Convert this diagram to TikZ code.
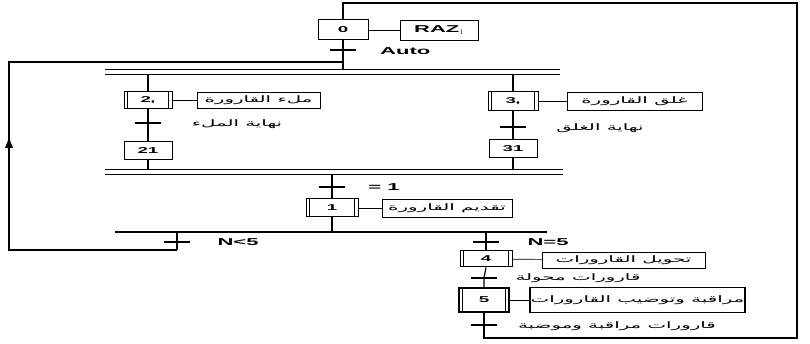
\documentclass[tikz,border=0pt]{standalone}
\usepackage{fontspec}
\setmainfont{Liberation Sans}[FakeStretch=2.2]
\newfontfamily\ar[Script=Arabic,FakeStretch=2.2]{DejaVu Sans}
\TeXXeTstate=1
\usetikzlibrary{arrows.meta}
\begin{document}
\begin{tikzpicture}[x=1pt,y=-1pt,
 every node/.style={inner sep=0pt},
 bars/.style={path picture={
   \draw[line width=1pt] ([xshift=3.5pt]path picture bounding box.north west) -- ([xshift=3.5pt]path picture bounding box.south west);
   \draw[line width=1pt] ([xshift=-3.5pt]path picture bounding box.north east) -- ([xshift=-3.5pt]path picture bounding box.south east);}},
 plainstep/.style={draw, line width=1pt, minimum width=48pt, minimum height=18pt, font=\bfseries\fontsize{8.5}{8.5}\selectfont},
 stepbox/.style={plainstep, bars},
 actbox/.style={draw, line width=0.9pt, minimum height=17pt, font=\ar\fontsize{9}{9}\selectfont},
 lbl/.style={font=\ar\fontsize{9}{9}\selectfont},
 latin/.style={font=\bfseries\fontsize{10}{10}\selectfont},
 link/.style={line width=1.2pt},
 alink/.style={line width=0.7pt},
 tick/.style={line width=1.1pt},
 bar/.style={line width=1pt}
]
\useasboundingbox (0,0) rectangle (810,344);
% initial step
\node[plainstep, minimum width=50pt, minimum height=20pt] (s0) at (343,30) {0};
\node[actbox, latin, minimum width=78pt, minimum height=20pt] (raz) at (439,30) {RAZ$_1$};
\draw[alink] (s0) -- (raz);
% coordinates
\coordinate (top) at (343,3);
\coordinate (tr) at (797,3);
\coordinate (br) at (797,338);
\coordinate (bl) at (484,338);
\coordinate (tA) at (343,50);
\coordinate (lj) at (343,62);
\coordinate (ltl) at (9,62);
\coordinate (lm) at (9,138);
\coordinate (lbl) at (9,250);
\coordinate (lbr) at (177,250);
\coordinate (d1Lt) at (105,70);
\coordinate (d1Rt) at (560,70);
\coordinate (d1Lb) at (105,75);
\coordinate (d1Rb) at (560,75);
\coordinate (d1c) at (343,70);
% top
\draw[link] (s0.south) -- (tA) -- (lj) -- (d1c);
\draw[tick] ([xshift=-13pt]tA) -- ([xshift=13pt]tA);
\node[latin, anchor=west] (auto) at (380,51) {Auto};
\draw[bar] (d1Lt) -- (d1Rt);
\draw[bar] (d1Lb) -- (d1Rb);
% left loop with upward arrow
\draw[link] (lbr) -- (lbl) -- (ltl) -- (lj);
\fill (lm) -- ([xshift=-4pt,yshift=-10pt]lm) -- ([xshift=4pt,yshift=-10pt]lm) -- cycle;
% branch 2
\coordinate (d1b2) at (148,75);
\node[stepbox, minimum width=48pt, minimum height=17pt] (s2) at (148,100) {2$_\bullet$};
\coordinate (t2) at (148,123);
\node[plainstep] (s21) at (148,151) {21};
\coordinate (c1b2) at (148,170);
\draw[link] (d1b2) -- (s2.north);
\draw[link] (s2.south) -- (t2) -- (s21.north);
\draw[link] (s21.south) -- (c1b2);
\draw[tick] ([xshift=-13pt]t2) -- ([xshift=13pt]t2);
\node[actbox, minimum width=123pt, minimum height=16pt] (a2) at (258.5,100) {\beginR ملء القارورة\endR};
\draw[alink] (s2) -- (a2);
\node[lbl] (l2) at (237,124) {\beginR نهاية الملء\endR};
% branch 3
\coordinate (d1b3) at (513,75);
\node[stepbox, minimum width=50pt, minimum height=19pt] (s3) at (513,101) {3$_\bullet$};
\coordinate (t3) at (513,127);
\node[plainstep] (s31) at (513,149) {31};
\coordinate (c1b3) at (513,170);
\draw[link] (d1b3) -- (s3.north);
\draw[link] (s3.south) -- (t3) -- (s31.north);
\draw[link] (s31.south) -- (c1b3);
\draw[tick] ([xshift=-13pt]t3) -- ([xshift=13pt]t3);
\node[actbox, minimum width=135pt, minimum height=18pt] (a3) at (634.5,101) {\beginR غلق القارورة\endR};
\draw[alink] (s3) -- (a3);
\node[lbl] (l3) at (600,128) {\beginR نهاية الغلق\endR};
% convergence
\coordinate (c1Lt) at (105,170);
\coordinate (c1Rt) at (563,170);
\coordinate (c1Lb) at (105,175);
\coordinate (c1Rb) at (563,175);
\draw[bar] (c1Lt) -- (c1Rt);
\draw[bar] (c1Lb) -- (c1Rb);
\coordinate (c1o) at (332,175);
\coordinate (t1) at (332,187);
\node[stepbox, minimum width=52pt] (s1) at (332,208) {1};
\draw[link] (c1o) -- (t1) -- (s1.north);
\draw[tick] ([xshift=-13pt]t1) -- ([xshift=13pt]t1);
\node[latin] (l1) at (384,187) {= 1};
\node[actbox, minimum width=130pt, minimum height=18pt] (a1) at (447,208) {\beginR تقديم القارورة\endR};
\draw[alink] (s1) -- (a1);
% selection
\coordinate (selL) at (115,232);
\coordinate (selR) at (547,232);
\coordinate (sel1) at (332,232);
\draw[link] (selL) -- (selR);
\draw[link] (s1.south) -- (sel1);
\coordinate (sl) at (177,232);
\coordinate (tL) at (177,242);
\draw[link] (sl) -- (tL) -- (lbr);
\draw[tick] ([xshift=-13pt]tL) -- ([xshift=13pt]tL);
\node[latin] (lL) at (238,242) {N<5};
% right branch
\coordinate (sr) at (486,232);
\coordinate (tR) at (486,242);
\node[stepbox, minimum width=52pt, minimum height=16pt] (s4) at (486,259) {4};
\draw[link] (sr) -- (tR) -- (s4.north);
\draw[tick] ([xshift=-13pt]tR) -- ([xshift=13pt]tR);
\node[latin] (lR) at (548,242) {N=5};
\node[actbox, minimum width=163pt, minimum height=16pt] (a4) at (623.5,260) {\beginR تحويل القارورات\endR};
\draw[alink] (s4) -- (a4);
\coordinate (t4) at (484,278);
\node[lbl] (l4) at (578,278) {\beginR قارورات محولة\endR};
\node[stepbox, minimum width=50pt, minimum height=24pt, line width=1.4pt] (s5) at (484,300) {5};
\draw[link] (s4.south) -- (t4) -- (s5.north);
\draw[tick] ([xshift=-13pt]t4) -- ([xshift=13pt]t4);
\node[actbox, minimum width=215pt, minimum height=25pt, line width=1.2pt] (a5) at (637.5,300) {\beginR مراقبة وتوضيب القارورات\endR};
\draw[alink] (s5) -- (a5);
\coordinate (t5) at (484,325);
\node[lbl] (l5) at (617,326) {\beginR قارورات مراقبة وموضبة\endR};
\draw[link] (s5.south) -- (t5) -- (bl) -- (br) -- (tr) -- (top) -- (s0.north);
\draw[tick] ([xshift=-13pt]t5) -- ([xshift=13pt]t5);
\end{tikzpicture}
\end{document}
